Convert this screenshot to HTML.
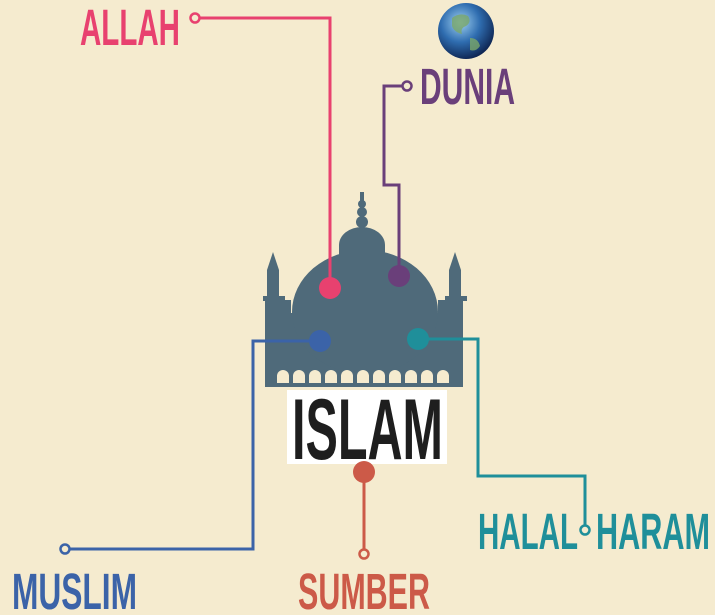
<!DOCTYPE html>
<html><head><meta charset="utf-8"><style>
html,body{margin:0;padding:0;background:#f5ebcf;}
svg{display:block}
.t{font-family:"Liberation Sans",sans-serif;font-weight:bold;}
</style></head><body>
<svg width="715" height="615" viewBox="0 0 715 615" xmlns="http://www.w3.org/2000/svg">
<defs>
<radialGradient id="g" cx="0.4" cy="0.35" r="0.7">
<stop offset="0" stop-color="#9fd0f0"/><stop offset="0.5" stop-color="#2f6db0"/><stop offset="1" stop-color="#0b1f4a"/>
</radialGradient>
</defs>
<rect width="715" height="615" fill="#f5ebcf"/>
<g fill="#4f6a7a">
<path d="M265,387 L265,300 L291,300 L291,313 L438,313 L438,300 L463,300 L463,387 Z"/>
<ellipse cx="365" cy="312" rx="73" ry="62"/>
<ellipse cx="362" cy="245" rx="23" ry="18"/>
<rect x="339" y="245" width="46" height="20"/>
<circle cx="362" cy="222" r="6"/><circle cx="362" cy="212" r="5"/><circle cx="362" cy="204" r="4"/>
<rect x="360" y="192" width="4" height="20"/>
<path d="M267,300 L267,270 L273,252 L279,270 L279,300 Z"/>
<rect x="263" y="296" width="22" height="5"/>
<path d="M449,300 L449,270 L455,252 L461,270 L461,300 Z"/>
<rect x="445" y="296" width="22" height="5"/>
</g>
<path d="M356,176 a8,8 0 1 0 14,10 a7,7 0 1 1 -14,-10z" fill="#4f6a7a"/>
<g fill="#f5ebcf">
<path d="M277,383 v-7 a6,6 0 0 1 12,0 v7z"/>
<path d="M293,383 v-7 a6,6 0 0 1 12,0 v7z"/>
<path d="M309,383 v-7 a6,6 0 0 1 12,0 v7z"/>
<path d="M325,383 v-7 a6,6 0 0 1 12,0 v7z"/>
<path d="M341,383 v-7 a6,6 0 0 1 12,0 v7z"/>
<path d="M357,383 v-7 a6,6 0 0 1 12,0 v7z"/>
<path d="M373,383 v-7 a6,6 0 0 1 12,0 v7z"/>
<path d="M389,383 v-7 a6,6 0 0 1 12,0 v7z"/>
<path d="M405,383 v-7 a6,6 0 0 1 12,0 v7z"/>
<path d="M421,383 v-7 a6,6 0 0 1 12,0 v7z"/>
<path d="M437,383 v-7 a6,6 0 0 1 12,0 v7z"/>
</g>
<rect x="287" y="390" width="160" height="74" fill="#fff"/>
<text x="292" y="459" class="t" font-size="86" fill="#1e1e1e" stroke="#fff" stroke-width="3" paint-order="stroke" textLength="151" lengthAdjust="spacingAndGlyphs">ISLAM</text>
<g fill="none" stroke-width="3">
<polyline points="330,288 330,18 199,18" stroke="#e8416f"/>
<polyline points="399,276 399,185 384,185 384,86 403,86" stroke="#6a3f7a"/>
<polyline points="320,341 253,341 253,549 69,549" stroke="#3b63a8"/>
<polyline points="418,339 478,339 478,476 585,476 585,526" stroke="#1f8f9a"/>
<polyline points="364,472 364,550" stroke="#cc5a48"/>
</g>
<g stroke-width="2.5" fill="#f5ebcf">
<circle cx="195" cy="18" r="4.5" stroke="#e8416f"/>
<circle cx="407" cy="86" r="4.5" stroke="#6a3f7a"/>
<circle cx="65" cy="549" r="4.5" stroke="#3b63a8"/>
<circle cx="585" cy="530" r="4.5" stroke="#1f8f9a"/>
<circle cx="364" cy="554" r="4.5" stroke="#cc5a48"/>
</g>
<circle cx="330" cy="288" r="11" fill="#e8416f"/>
<circle cx="399" cy="276" r="11" fill="#6a3f7a"/>
<circle cx="320" cy="341" r="11" fill="#3b63a8"/>
<circle cx="418" cy="339" r="11" fill="#1f8f9a"/>
<circle cx="364" cy="472" r="11" fill="#cc5a48"/>
<circle cx="466" cy="31" r="28" fill="url(#g)"/>
<path d="M452,18 q8,-6 16,-2 q4,6 -2,10 q-6,2 -4,8 q-8,-2 -10,-8z M470,38 q8,0 10,8 q-4,6 -10,4z" fill="#7aa86a" opacity="0.8"/>
<g class="t" font-size="51">
<text x="80" y="45" fill="#e8416f" textLength="100" lengthAdjust="spacingAndGlyphs">ALLAH</text>
<text x="420" y="104" fill="#6a3f7a" textLength="95" lengthAdjust="spacingAndGlyphs">DUNIA</text>
<text x="12" y="609" fill="#3b63a8" textLength="125" lengthAdjust="spacingAndGlyphs">MUSLIM</text>
<text x="298" y="609" fill="#cc5a48" textLength="132" lengthAdjust="spacingAndGlyphs">SUMBER</text>
<text x="478" y="549" fill="#1f8f9a" textLength="100" lengthAdjust="spacingAndGlyphs">HALAL</text>
<text x="596" y="549" fill="#1f8f9a" textLength="114" lengthAdjust="spacingAndGlyphs">HARAM</text>
</g>
</svg>
</body></html>
